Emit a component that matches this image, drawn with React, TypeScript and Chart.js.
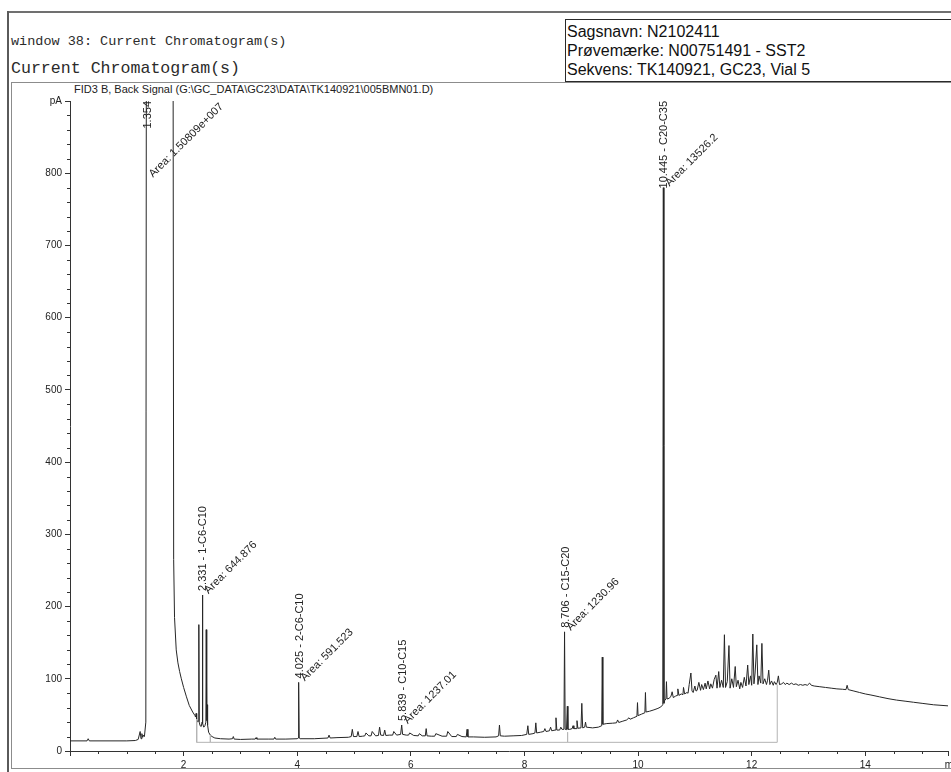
import React, { useEffect, useRef } from 'react';
import { Chart, registerables } from 'chart.js';

Chart.register(...registerables);

// ---- FID3 B signal: retention time (min) / response (pA), split by region ----

// injection and solvent front
const solventT = [0, 0.3, 0.32, 0.34, 1.0, 1.15, 1.2, 1.235, 1.25, 1.265, 1.28, 1.295, 1.31, 1.335, 1.354, 1.8, 1.825, 1.84, 1.87, 1.9, 1.93, 1.96, 2.0, 2.05, 2.1, 2.16, 2.2];
const solventPA = [14, 14, 17, 14, 14, 14.5, 16, 27, 17, 24, 19, 22, 20, 40, 2000, 2000, 265, 185, 140, 122, 110, 100, 88, 75, 63, 54, 49];

// light C6-C10 cluster
const lightT = [2.21, 2.22, 2.23, 2.25, 2.262, 2.268, 2.275, 2.29, 2.31, 2.325, 2.331, 2.338, 2.355, 2.375, 2.392, 2.398, 2.404, 2.41, 2.415, 2.422, 2.44, 2.47, 2.5, 2.55];
const lightPA = [47, 52, 44, 40, 42, 175, 40, 35, 34, 40, 216, 38, 33, 35, 40, 168, 42, 48, 64, 36, 26, 22, 20, 18];

// C10-C15 region
const midT = [2.65, 2.8, 2.86, 2.875, 2.89, 3.0, 3.2, 3.26, 3.275, 3.29, 3.5, 3.59, 3.605, 3.62, 3.8, 4.0, 4.015, 4.025, 4.035, 4.05, 4.3, 4.54, 4.56, 4.58, 4.7, 4.9, 4.95, 4.97, 4.99, 5.05, 5.07, 5.09, 5.15, 5.19, 5.21, 5.26, 5.3, 5.32, 5.38, 5.43, 5.45, 5.47, 5.52, 5.54, 5.56, 5.62, 5.68, 5.7, 5.75, 5.82, 5.839, 5.855, 5.92, 5.96, 5.98, 6.05, 6.13, 6.15, 6.2, 6.255, 6.27, 6.285, 6.36, 6.42, 6.44, 6.55, 6.63, 6.65, 6.72, 6.8, 6.82, 6.9, 6.975, 6.99, 7.005, 7.1];
const midPA = [17, 16.5, 17, 20, 16.5, 16, 16.5, 16.5, 18.5, 16.5, 16.5, 16.5, 19, 16.5, 16.5, 17, 18, 95, 18, 17, 17, 18, 22, 18, 18.5, 19, 20, 30, 20, 20, 27, 20, 20.5, 21, 25, 21, 21, 27, 21, 21.5, 33, 22, 21.5, 29, 21.5, 22, 22, 27, 22, 23, 36, 23, 22, 22, 25, 21.5, 21, 24, 21, 21, 31, 21, 20.5, 20.5, 24, 20.5, 20.5, 27, 20, 20, 23, 20, 19.5, 30, 19.5, 19.5];

// C15-C20 region up to the C20-C35 marker
const heavyT = [7.3, 7.5, 7.545, 7.56, 7.575, 7.65, 7.8, 7.95, 8.04, 8.06, 8.075, 8.15, 8.185, 8.2, 8.215, 8.28, 8.34, 8.36, 8.38, 8.44, 8.46, 8.48, 8.54, 8.555, 8.57, 8.62, 8.64, 8.66, 8.695, 8.706, 8.717, 8.74, 8.755, 8.765, 8.8, 8.84, 8.855, 8.87, 8.91, 8.925, 8.94, 8.995, 9.01, 9.025, 9.06, 9.075, 9.09, 9.2, 9.3, 9.36, 9.37, 9.38, 9.45, 9.55, 9.62, 9.64, 9.66, 9.72, 9.8, 9.84, 9.86, 9.92, 9.98, 9.99, 10.0, 10.06, 10.12, 10.13, 10.14, 10.2, 10.28, 10.35, 10.4, 10.435, 10.445, 10.455];
const heavyPA = [19, 19.5, 21, 36, 21, 20.5, 21, 21.5, 23, 35, 23, 24, 25, 39, 25, 26, 27, 31, 27, 28, 33, 28, 29, 46, 29, 29, 33, 30, 30, 165, 30, 29.5, 62, 30, 30, 31, 35, 31, 31, 42, 31.5, 32, 66, 32, 33, 40, 33, 32, 33, 35, 130, 37, 38, 38.5, 39, 43, 39.5, 41, 43, 46, 44, 46, 48, 67, 49, 51, 53, 81, 54, 55, 57, 59, 61, 64, 780, 66];

// unresolved hump C20-C35
const humpT = [10.47, 10.49, 10.5, 10.51, 10.55, 10.58, 10.6, 10.62, 10.66, 10.69, 10.7, 10.72, 10.76, 10.79, 10.8, 10.82, 10.86, 10.88, 10.9, 10.93, 10.95, 10.97, 11.0, 11.02, 11.04, 11.07, 11.1, 11.12, 11.15, 11.18, 11.2, 11.23, 11.26, 11.28, 11.31, 11.34, 11.37, 11.39, 11.42, 11.44, 11.47, 11.5, 11.52, 11.54, 11.57, 11.6, 11.62, 11.65, 11.68, 11.71, 11.73, 11.76, 11.79, 11.81, 11.84, 11.87, 11.9, 11.93, 11.95, 11.98, 12.0, 12.02, 12.04, 12.06, 12.09, 12.11, 12.13, 12.16, 12.18, 12.2, 12.23, 12.26, 12.28, 12.3, 12.32, 12.35, 12.38, 12.4, 12.43, 12.45, 12.47, 12.49];
const humpPA = [70, 72, 96, 72, 73, 76, 82, 74, 76, 77, 86, 77, 79, 78, 88, 79, 81, 80, 92, 108, 83, 81, 90, 83, 84, 95, 84, 92, 85, 94, 86, 97, 86, 93, 87, 99, 105, 87, 110, 88, 98, 88, 161, 88, 96, 146, 87, 100, 88, 117, 89, 98, 86, 95, 88, 102, 90, 119, 92, 104, 91, 162, 93, 108, 147, 92, 104, 94, 149, 93, 100, 92, 98, 112, 92, 97, 91, 96, 92, 95, 104, 92];

// column bleed tail
const tailT = [12.53, 12.56, 12.59, 12.62, 12.66, 12.7, 12.74, 12.78, 12.82, 12.86, 12.9, 12.94, 12.98, 13.02, 13.05, 13.1, 13.2, 13.3, 13.4, 13.5, 13.6, 13.66, 13.68, 13.7, 13.8, 13.9, 14.0, 14.1, 14.25, 14.4, 14.55, 14.7, 14.85, 15.0, 15.2, 15.46];
const tailPA = [93, 95, 92, 94, 92, 94, 92, 93, 91, 92, 91, 92, 91, 94, 91, 90, 89, 88, 87, 86, 85.5, 85, 91, 85, 83, 81, 79, 77.5, 75, 72.5, 70.5, 69, 67.5, 66, 64, 62.5];

// integration baseline and event markers
const baseT = [2.23, 2.23, 2.47, 2.47, 2.47, 8.76, 8.76, 8.76, 12.45, 12.45];
const basePA = [44, 12, 12, 22, 12, 12, 26, 12, 12, 92];

// annotated peaks
const peakRT = [1.354, 2.331, 4.025, 5.839, 8.706, 10.445];
const peakName = ['', '1-C6-C10', '2-C6-C10', 'C10-C15', 'C15-C20', 'C20-C35'];
const peakArea = ['1.50809e+007', '644.876', '591.523', '1237.01', '1230.96', '13526.2'];

// axes
const xMax = 15.456;
const yMax = 900;
const yUnit = 'pA';
const xUnit = 'min';

const signalT = [...solventT, ...lightT, ...midT, ...heavyT, ...humpT, ...tailT];
const signalPA = [...solventPA, ...lightPA, ...midPA, ...heavyPA, ...humpPA, ...tailPA];

const SANS = '"Liberation Sans", Arial, Helvetica, sans-serif';
const MONO = '"Liberation Mono", "Courier New", monospace';
const INK = '#262626';

const chromAnnotations = {
  id: 'chromAnnotations',
  afterDraw(chart: any) {
    const { ctx, chartArea } = chart;
    const x = chart.scales.x;
    const y = chart.scales.y;
    ctx.save();

    // minor tick marks
    ctx.strokeStyle = '#333';
    ctx.lineWidth = 1;
    ctx.beginPath();
    for (let v = 20; v < yMax; v += 20) {
      if (v % 100 === 0) continue;
      const py = Math.round(y.getPixelForValue(v)) + 0.5;
      ctx.moveTo(chartArea.left - 3, py);
      ctx.lineTo(chartArea.left, py);
    }
    for (let k = 1; k * 0.5 <= xMax; k++) {
      if (k % 4 === 0) continue;
      const px = Math.round(x.getPixelForValue(k * 0.5)) + 0.5;
      ctx.moveTo(px, chartArea.bottom);
      ctx.lineTo(px, chartArea.bottom + 3);
    }
    ctx.stroke();

    // x unit
    ctx.fillStyle = '#222';
    ctx.font = `10px ${SANS}`;
    ctx.textAlign = 'left';
    ctx.textBaseline = 'middle';
    ctx.fillText(xUnit, x.getPixelForValue(15.4), chartArea.bottom + 14);

    // peak retention-time and area labels
    ctx.font = `11px ${SANS}`;
    peakRT.forEach((rt, i) => {
      const idx = signalT.findIndex((t) => Math.abs(t - rt) < 1e-9);
      const h = signalPA[idx];
      const px = x.getPixelForValue(rt);
      const py = Math.max(y.getPixelForValue(Math.min(h, yMax)), chartArea.top);

      const rtText = peakName[i] ? `${rt.toFixed(3)} - ${peakName[i]}` : rt.toFixed(3);
      const w1 = ctx.measureText(rtText).width;
      let y1 = py - 4;
      if (y1 - w1 < chartArea.top) y1 = chartArea.top + w1;
      ctx.save();
      ctx.translate(px + 1, y1);
      ctx.rotate(-Math.PI / 2);
      ctx.textAlign = 'left';
      ctx.textBaseline = 'middle';
      ctx.fillText(rtText, 0, 0);
      ctx.restore();

      const areaText = `Area: ${peakArea[i]}`;
      const w2 = ctx.measureText(areaText).width;
      let y2 = py - 3;
      if (y2 - w2 * Math.SQRT1_2 < chartArea.top) y2 = chartArea.top + w2 * Math.SQRT1_2 + 4;
      ctx.save();
      ctx.translate(px + 4, y2);
      ctx.rotate(-Math.PI / 4);
      ctx.textAlign = 'left';
      ctx.textBaseline = 'middle';
      ctx.fillText(areaText, 0, 0);
      ctx.restore();
    });

    ctx.restore();
  },
};

function ChromatogramCanvas() {
  const ref = useRef<HTMLCanvasElement | null>(null);

  useEffect(() => {
    if (!ref.current) return;
    Chart.defaults.font.family = SANS;
    const chart = new Chart(ref.current, {
      type: 'scatter',
      data: {
        datasets: [
          {
            data: baseT.map((t, i) => ({ x: t, y: basePA[i] })),
            showLine: true,
            borderColor: '#b4b4b4',
            borderWidth: 1,
            pointRadius: 0,
          },
          {
            data: signalT.map((t, i) => ({ x: t, y: signalPA[i] })),
            showLine: true,
            borderColor: INK,
            borderWidth: 1,
            pointRadius: 0,
          },
        ],
      },
      options: {
        animation: false,
        responsive: false,
        events: [],
        layout: { padding: { top: 101, right: 0, bottom: 0, left: 0 } },
        plugins: { legend: { display: false }, tooltip: { enabled: false } },
        scales: {
          x: {
            type: 'linear',
            min: 0,
            max: xMax,
            afterFit: (s: any) => {
              s.height = 21;
            },
            grid: { display: true, drawOnChartArea: false, drawTicks: true, tickLength: 5, color: '#333' },
            border: { display: true, color: '#333', width: 1 },
            ticks: {
              stepSize: 2,
              autoSkip: false,
              maxRotation: 0,
              padding: 3,
              color: '#222',
              font: { size: 10, family: SANS },
              callback: (v: any) => (v > 0 && v <= 14 && v % 2 === 0 ? String(v) : ''),
            },
          },
          y: {
            type: 'linear',
            min: 0,
            max: yMax,
            afterFit: (s: any) => {
              s.width = 70;
            },
            grid: { display: true, drawOnChartArea: false, drawTicks: true, tickLength: 5, color: '#333' },
            border: { display: true, color: '#333', width: 1 },
            ticks: {
              stepSize: 100,
              padding: 3,
              color: '#222',
              font: { size: 10, family: SANS },
              callback: (v: any) => (v === yMax ? yUnit : String(v)),
            },
          },
        },
      },
      plugins: [chromAnnotations],
    } as any);
    return () => chart.destroy();
  }, []);

  return (
    <canvas
      ref={ref}
      width={951}
      height={772}
      style={{ position: 'absolute', left: 0, top: 0, width: 951, height: 772 }}
    />
  );
}

export default function App() {
  const abs = (s: React.CSSProperties): React.CSSProperties => ({ position: 'absolute', ...s });
  return (
    <div style={abs({ left: 0, top: 0, width: 951, height: 772, overflow: 'hidden', background: '#fff' })}>
      <div style={abs({ left: 8, top: 11, width: 943, height: 2, background: '#707070' })} />
      <div style={abs({ left: 7, top: 11, width: 2, height: 761, background: '#5a5a5a' })} />
      <div style={abs({ left: 11, top: 35, font: `13.5px ${MONO}`, lineHeight: '13.5px', color: '#2b2b2b', whiteSpace: 'pre' })}>
        window 38: Current Chromatogram(s)
      </div>
      <div style={abs({ left: 11, top: 61, font: `16.6px ${MONO}`, lineHeight: '16.6px', color: '#2b2b2b', whiteSpace: 'pre' })}>
        Current Chromatogram(s)
      </div>
      <div
        style={abs({
          left: 565,
          top: 19,
          width: 420,
          height: 59,
          border: '1px solid #2a2a2a',
          boxSizing: 'content-box',
          padding: '2px 0 0 1px',
          font: `16px ${SANS}`,
          lineHeight: '19px',
          color: '#111',
          whiteSpace: 'pre',
        })}
      >
        <div>Sagsnavn: N2102411</div>
        <div>Prøvemærke: N00751491 - SST2</div>
        <div>Sekvens: TK140921, GC23, Vial 5</div>
      </div>
      <div style={abs({ left: 11, top: 82, width: 960, height: 685, border: '1px solid #8c8c8c' })} />
      <div style={abs({ left: 74, top: 83, font: `11px ${SANS}`, lineHeight: '12px', color: '#222', whiteSpace: 'pre' })}>
        {'FID3 B, Back Signal (G:\\GC_DATA\\GC23\\DATA\\TK140921\\005BMN01.D)'}
      </div>
      <ChromatogramCanvas />
    </div>
  );
}
